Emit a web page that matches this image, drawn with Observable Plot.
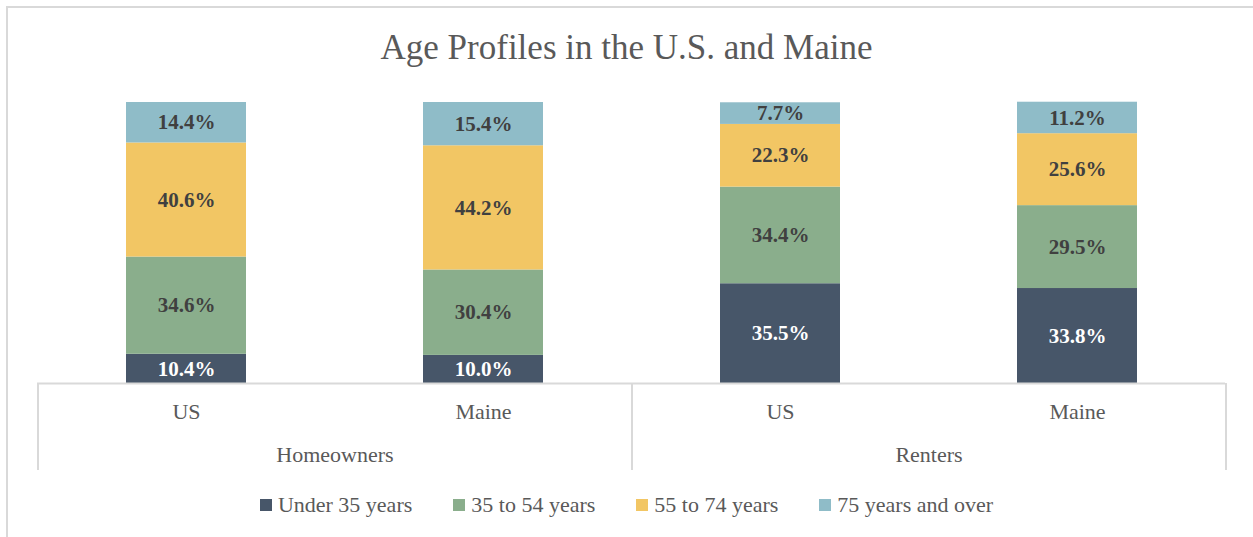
<!DOCTYPE html>
<html>
<head>
<meta charset="utf-8">
<script src="https://cdn.jsdelivr.net/npm/d3@7"></script>
<script src="https://cdn.jsdelivr.net/npm/@observablehq/plot@0.6"></script>
<style>
  body { margin: 0; background: #fff; }
  #wrap { position: relative; width: 1253px; height: 537px; overflow: hidden; background: #fff; font-family: "Liberation Serif", "DejaVu Serif", serif; }
  #border { position: absolute; left: 6px; top: 6px; width: 1300px; height: 600px; border-top: 2px solid #d9d9d9; border-left: 2px solid #d9d9d9; }
  #title { position: absolute; top: 27px; left: 0; width: 1253px; text-align: center; font-size: 35px; line-height: 42px; color: #595959; }
  #chart { position: absolute; top: 85px; left: 0; }
  #legend { position: absolute; top: 492px; left: 0; width: 1253px; display: flex; justify-content: center; gap: 41px; font-size: 22px; line-height: 26px; color: #595959; }
  .item { display: flex; align-items: center; gap: 6px; }
  .sw { width: 12px; height: 12px; display: inline-block; }
</style>
</head>
<body>
<div id="wrap">
  <div id="border"></div>
  <div id="title">Age Profiles in the U.S. and Maine</div>
  <div id="chart"></div>
  <div id="legend"></div>
</div>
<script>
// ---- data ----
const groups = ["Homeowners", "Homeowners", "Renters", "Renters"];
const regions = ["US", "Maine", "US", "Maine"];
const ageGroups = ["Under 35 years", "35 to 54 years", "55 to 74 years", "75 years and over"];
const under35 = [10.4, 10.0, 35.5, 33.8];
const age35to54 = [34.6, 30.4, 34.4, 29.5];
const age55to74 = [40.6, 44.2, 22.3, 25.6];
const age75plus = [14.4, 15.4, 7.7, 11.2];
const colors = ["#475669", "#8aae8c", "#f2c664", "#8fbcc8"];

// ---- build table ----
const keys = groups.map((g, i) => g + "|" + regions[i]);
const series = [under35, age35to54, age55to74, age75plus];
const data = [];
keys.forEach((k, i) => {
  series.forEach((s, j) => {
    data.push({key: k, group: groups[i], region: regions[i], age: ageGroups[j], value: s[i]});
  });
});
const groupStarts = groups.map((g, i) => ({g, key: keys[i]})).filter((d, i) => i === 0 || groups[i - 1] !== d.g);

// ---- layout ----
const width = 1253, height = 395;
const marginLeft = 37, marginRight = 28, marginTop = 17, marginBottom = 97;
const step = (width - marginLeft - marginRight) / keys.length;
const yPerUnit = (height - marginTop - marginBottom) / 100;
const sepDepth = 87 / yPerUnit;

const plot = Plot.plot({
  width, height, marginLeft, marginRight, marginTop, marginBottom,
  style: {fontFamily: "'Liberation Serif', 'DejaVu Serif', serif", fontSize: "21px", background: "transparent", overflow: "visible"},
  x: {domain: keys, paddingInner: 0.596, paddingOuter: 0.298, axis: null},
  y: {domain: [0, 100], axis: null},
  color: {domain: ageGroups, range: colors},
  marks: [
    Plot.barY(data, {x: "key", y: "value", fill: "age", order: ageGroups}),
    Plot.text(data, Plot.stackY({
      x: "key", y: "value", order: ageGroups,
      text: d => d.value.toFixed(1) + "%",
      fill: d => d.age === ageGroups[0] ? "#ffffff" : "#404040",
      fontWeight: "bold", fontSize: 21
    })),
    Plot.ruleY([0], {stroke: "#d9d9d9", strokeWidth: 2}),
    // group separators
    Plot.ruleX(groupStarts, {x: "key", y1: 0, y2: -sepDepth, dx: -step / 2, stroke: "#d9d9d9", strokeWidth: 2}),
    Plot.ruleX([keys[keys.length - 1]], {x: d => d, y1: 0, y2: -sepDepth, dx: step / 2, stroke: "#d9d9d9", strokeWidth: 2}),
    // region labels
    Plot.text(keys, {x: d => d, text: (d, i) => regions[i], frameAnchor: "bottom", dy: 35, fill: "#595959", fontSize: 22}),
    // group labels
    Plot.text(groupStarts, {x: "key", text: "g", frameAnchor: "bottom", dy: 78, dx: step / 2, fill: "#595959", fontSize: 22})
  ]
});
document.getElementById("chart").appendChild(plot);

// ---- legend ----
const legend = document.getElementById("legend");
ageGroups.forEach((a, i) => {
  const item = document.createElement("div");
  item.className = "item";
  const sw = document.createElement("span");
  sw.className = "sw";
  sw.style.background = colors[i];
  const t = document.createElement("span");
  t.textContent = a;
  item.appendChild(sw);
  item.appendChild(t);
  legend.appendChild(item);
});
</script>
</body>
</html>
